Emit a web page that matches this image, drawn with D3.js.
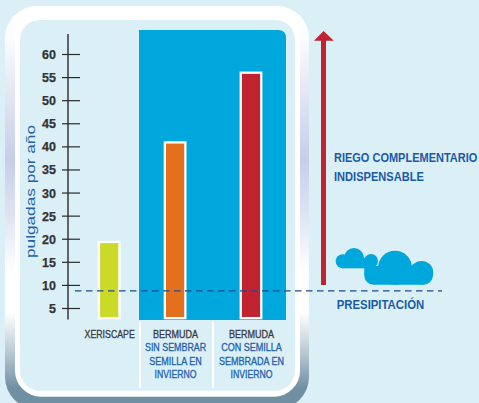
<!DOCTYPE html>
<html><head><meta charset="utf-8">
<script src="https://cdn.jsdelivr.net/npm/d3@7/dist/d3.min.js"></script>
<style>html,body{margin:0;padding:0;background:#dbeff7;overflow:hidden}svg{display:block}</style>
</head><body><svg id="c" width="479" height="403"></svg>
<script>
const categories=["XERISCAPE","BERMUDA SIN","BERMUDA CON"];
const values=[19.05,40.6,55.7];
const barColors=["#cbda27","#e46f1c","#bf2430"];
const tickValues=[5,10,15,20,25,30,35,40,45,50,55,60];
const labelLines=[["XERISCAPE"],["BERMUDA","SIN SEMBRAR","SEMILLA EN","INVIERNO"],["BERMUDA","CON SEMILLA","SEMBRADA EN","INVIERNO"]];
const precipitation=8.7;
const baseValue=3.05;
const axisTitle="pulgadas por año";
const arrowLines=["RIEGO COMPLEMENTARIO","INDISPENSABLE"];
const precipLabel="PRESIPITACIÓN";

const svg=d3.select("#c");
const defs=svg.append("defs");
const g=defs.append("linearGradient").attr("id","frame").attr("x1",0).attr("x2",0).attr("y1",0).attr("y2",1);
[[0,"#ffffff"],[.08,"#fbfcfe"],[.2,"#e6e9f5"],[.38,"#c6cfe8"],[.52,"#dfe4f3"],[.66,"#ffffff"],[.76,"#ffffff"],[.86,"#b9c9d3"],[.95,"#6f8fa2"],[1,"#6f8fa2"]]
 .forEach(d=>g.append("stop").attr("offset",d[0]).attr("stop-color",d[1]));
const sans="'Liberation Sans',Arial,sans-serif";

const y=d3.scaleLinear().domain([5,60]).range([308,54]);
const x=d3.scaleOrdinal(categories,[109.2,175.1,251]);
const barW=18.2;

// condense a text horizontally so that it spans the given width, starting at left
function squeezed(str,left,base,width,size,weight,color,stroke){
 const t=svg.append("text").attr("font-family",sans).attr("font-size",size).attr("font-weight",weight)
  .attr("fill",color).text(str);
 if(stroke) t.attr("stroke",color).attr("stroke-width",stroke);
 const s=width/t.node().getComputedTextLength();
 t.attr("transform",`translate(${left},${base}) scale(${s},1)`);
 return t;
}

svg.append("rect").attr("width",479).attr("height",403).attr("fill","#dbeff7");
svg.append("rect").attr("x",5).attr("y",6).attr("width",304).attr("height",403).attr("rx",32).attr("fill","url(#frame)");
svg.append("rect").attr("x",15).attr("y",6).attr("width",285).attr("height",390.7).attr("rx",26).attr("fill","#fff");
svg.append("rect").attr("x",20).attr("y",20).attr("width",275).attr("height",370.7).attr("rx",20).attr("fill","#dbeff7");

svg.append("path").attr("fill","#00a7dc").attr("d","M139,30H278Q286,30 286,38V320H139Z");
[139,212].forEach(px=>svg.append("rect").attr("x",px).attr("y",322).attr("width",2).attr("height",66).attr("fill","#fff"));

// bars
svg.append("g").selectAll("rect").data(categories).join("rect")
 .attr("x",d=>x(d)-barW/2).attr("width",barW)
 .attr("y",(d,i)=>y(values[i])).attr("height",(d,i)=>y(baseValue)-y(values[i]))
 .attr("fill",(d,i)=>barColors[i]).attr("stroke","#fff").attr("stroke-width",4.6).style("paint-order","stroke");

// axis
const ax=svg.append("g").attr("transform","translate(68,0)").call(d3.axisLeft(y).tickValues(tickValues).tickSize(6));
ax.select(".domain").remove();
ax.append("line").attr("y1",34).attr("y2",319.5).attr("stroke","#2b2a2c").attr("stroke-width",1.4);
ax.selectAll(".tick line").attr("x1",-6).attr("x2",12).attr("stroke","#2b2a2c").attr("stroke-width",1.2);
ax.selectAll(".tick text").attr("x",-12).attr("font-family",sans).attr("font-weight","bold").attr("font-size",12.5).attr("fill","#333").attr("stroke","#333").attr("stroke-width",0.25).attr("dy","0.36em");

svg.append("text").attr("transform","translate(35,258) rotate(-90)")
 .attr("font-family",sans).attr("font-size",13.5).attr("fill","#1f63ad")
 .attr("textLength",133).attr("lengthAdjust","spacingAndGlyphs").text(axisTitle);

// precipitation line
svg.append("line").attr("x1",75).attr("x2",442).attr("y1",y(precipitation)).attr("y2",y(precipitation))
 .attr("stroke","#1a4c8e").attr("stroke-width",1.1).attr("stroke-dasharray","6.5 4.5");

// category labels
const labelWidths=[[50.2],[45,61.3,52.5,42],[45,60.5,65,42]];
labelLines.forEach((lines,i)=>{
 lines.forEach((t,j)=>{
  const w=labelWidths[i][j];
  squeezed(t,x(categories[i])+0.5-w/2,[337.7,351,365,378][j],w,10,"normal",j==0?"#3a3a3c":"#1f63ad",0.3);
 });
});

// arrow
svg.append("path").attr("fill","#bf2430").attr("d","M321,285V40.7H314L323.6,31L333.8,40.7H326V285Z");
const blue="#1b5aa6";
squeezed(arrowLines[0],334,162.3,143.4,12.5,"bold",blue);
squeezed(arrowLines[1],334,181,90,12.5,"bold",blue);
squeezed(precipLabel,336.7,308.7,87.6,12.5,"bold",blue);

// cloud
const cloud=svg.append("g").attr("fill","#00a7dc");
[[342.7,261.3,7],[354,258,10],[371,261,7],[395,267.7,17],[421.5,272.7,11.8]].forEach(c=>cloud.append("circle").attr("cx",c[0]).attr("cy",c[1]).attr("r",c[2]));
cloud.append("rect").attr("x",342).attr("y",258).attr("width",30).attr("height",10.3);
cloud.append("rect").attr("x",364.3).attr("y",266).attr("width",20).attr("height",9);
cloud.append("rect").attr("x",364.3).attr("y",266).attr("width",68.5).attr("height",18.7).attr("rx",9);
</script></body></html>
